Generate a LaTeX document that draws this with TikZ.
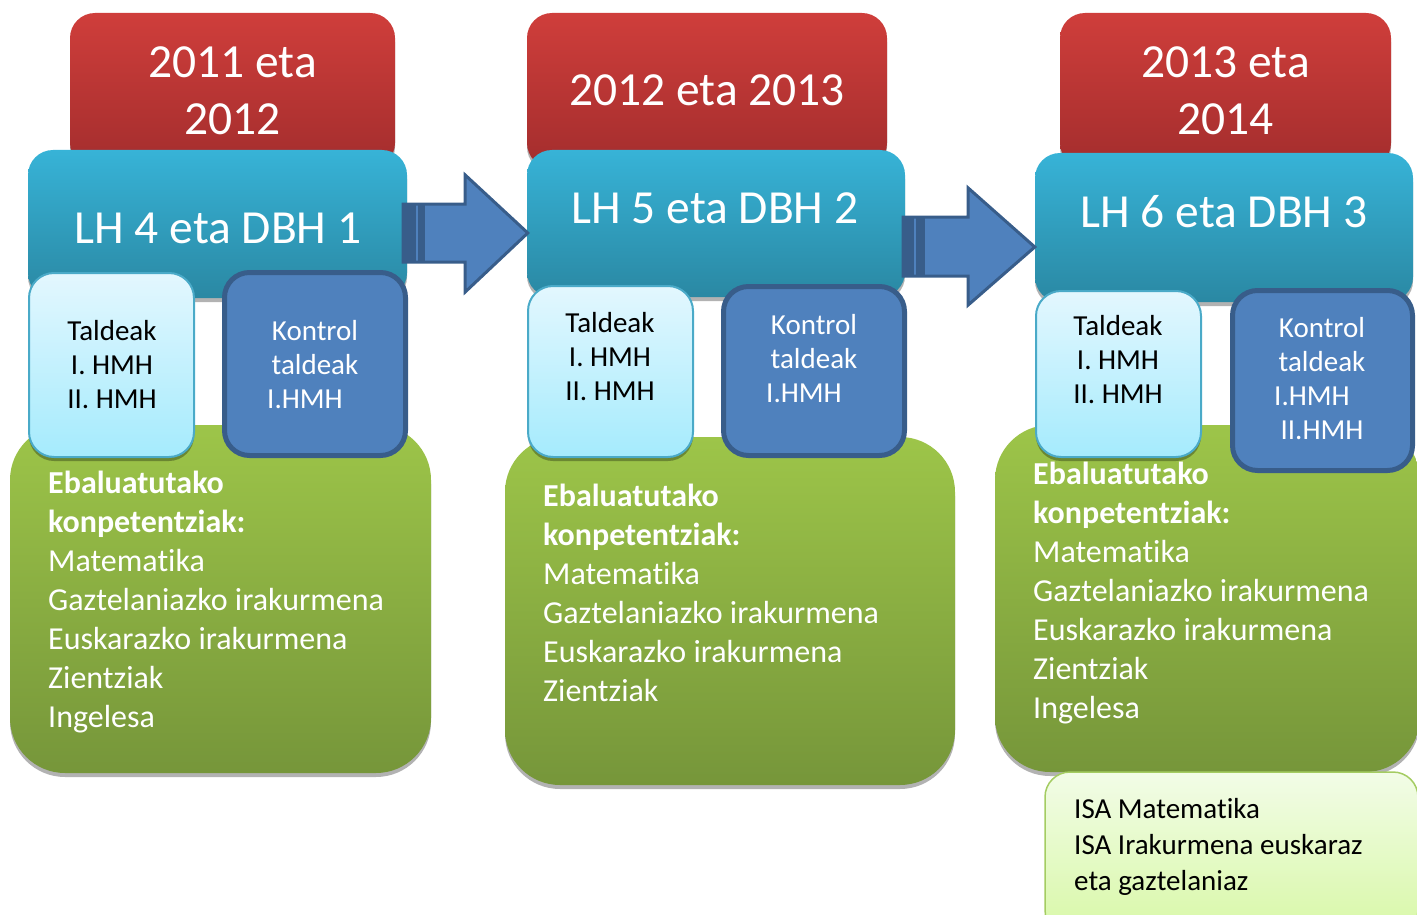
\documentclass[tikz,border=0pt]{standalone}
\usepackage{fontspec}
\setmainfont{Carlito}[Ligatures=CommonOff]
\usetikzlibrary{positioning,calc,shadows}
\definecolor{redtop}{HTML}{CF3E3B}
\definecolor{redbot}{HTML}{A32D2D}
\definecolor{cyantop}{HTML}{37B3D7}
\definecolor{cyanbot}{HTML}{2A88A3}
\definecolor{grouptop}{HTML}{E3F7FE}
\definecolor{groupbot}{HTML}{A5EBFD}
\definecolor{groupline}{HTML}{4AAAC8}
\definecolor{ctrlfill}{HTML}{4F81BD}
\definecolor{ctrlline}{HTML}{385D8A}
\definecolor{comptop}{HTML}{9DC549}
\definecolor{compbot}{HTML}{76963A}
\definecolor{isatop}{HTML}{F2FCE7}
\definecolor{isabot}{HTML}{D8F8A7}
\definecolor{isaline}{HTML}{A4CC62}
\tikzset{
    box/.style = {rectangle, rounded corners=25pt, inner sep=0pt},
    shadowed/.style = {drop shadow={shadow xshift=0pt, shadow yshift=-4pt,
        fill=black, opacity=.3}},
    yearbox/.style = {box, shadowed, top color=redtop, bottom color=redbot,
        text=white, font=\fontsize{47.5}{57}\selectfont, align=center},
    levelbox/.style = {box, shadowed, top color=cyantop, bottom color=cyanbot},
    groupbox/.style = {box, shadowed, draw=groupline, line width=2pt,
        top color=grouptop, bottom color=groupbot},
    ctrlbox/.style = {box, draw=ctrlline, line width=5pt, fill=ctrlfill},
    compbox/.style = {box, shadowed, rounded corners=55pt,
        top color=comptop, bottom color=compbot},
    isabox/.style = {box, shadowed, draw=isaline, line width=1.5pt,
        top color=isatop, bottom color=isabot},
    fatarrow/.style = {draw=ctrlline, line width=3pt, fill=ctrlfill},
    leveltext/.style = {inner sep=0pt, text=white, font=\fontsize{47.5}{57}\selectfont},
    grouptext/.style = {inner sep=0pt, align=center, font=\fontsize{29}{34}\selectfont},
    ctrltext/.style = {grouptext, text=white},
    comptext/.style = {inner sep=0pt, anchor=north west, align=left, text=white,
        font=\fontsize{32}{39}\selectfont},
    isatext/.style = {inner sep=0pt, anchor=north west, align=left,
        font=\fontsize{29}{36}\selectfont}
}
\begin{document}
\begin{tikzpicture}[x=1pt, y=-1pt]
    \useasboundingbox (0,0) rectangle (1417,915);
    % years
    \node [yearbox, minimum width=325pt, minimum height=155pt] (year1) at (232.5,90.5) {2011 eta\\2012};
    \node [yearbox, minimum width=360pt, minimum height=155pt] (year2) at (707,90.5) {2012 eta 2013};
    \node [yearbox, minimum width=331pt, minimum height=155pt] (year3) at (1225.5,90.5) {2013 eta\\2014};
    % levels
    \node [levelbox, minimum width=379pt, minimum height=148pt] (lh1) at (217.5,224) {};
    \node [levelbox, minimum width=378pt, minimum height=147pt] (lh2) at (716,223.5) {};
    \node [levelbox, minimum width=378pt, minimum height=149pt] (lh3) at (1224,227.5) {};
    % competences
    \node [compbox, minimum width=421pt, minimum height=348pt] (comp1) at (220.5,599) {};
    \node [compbox, minimum width=450pt, minimum height=348pt] (comp2) at (730,611) {};
    \node [compbox, minimum width=425pt, minimum height=347pt] (comp3) at (1207.5,598.5) {};
    % groups
    \node [groupbox, minimum width=165pt, minimum height=184pt] (tal1) at (111.5,365) {};
    \node [groupbox, minimum width=165pt, minimum height=171pt] (tal2) at (610.5,371.5) {};
    \node [groupbox, minimum width=165pt, minimum height=166pt] (tal3) at (1118.5,374) {};
    \node [ctrlbox, minimum width=181pt, minimum height=183pt] (kon1) at (315,364) {};
    \node [ctrlbox, minimum width=181pt, minimum height=169pt] (kon2) at (814,371) {};
    \node [ctrlbox, minimum width=180pt, minimum height=180pt] (kon3) at (1322.5,380.5) {};
    \node [isabox, minimum width=373pt, minimum height=163pt] (isa) at (1231.5,853.5) {};
    % arrows
    \draw [fatarrow] ($(lh1.east)+(-4,-20)$) -- ++(62,0) -- ++(0,-29)
        -- ($(lh2.west)+(1,9.5)$) -- ($(lh1.east)+(58,68)$) -- ++(0,-30) -- ++(-62,0) -- cycle;
    \fill [ctrlline] ($(lh1.east)+(-4,-20)$) rectangle ++(13,58);
    \fill [ctrlline] ($(lh1.east)+(11,-20)$) rectangle ++(7,58);
    \draw [fatarrow] ($(lh2.east)+(-2,-6.5)$) -- ++(65,0) -- ++(0,-29)
        -- ($(lh3.west)+(0,19.5)$) -- ($(lh2.east)+(63,81.5)$) -- ++(0,-29) -- ++(-65,0) -- cycle;
    \fill [ctrlline] ($(lh2.east)+(-2,-6.5)$) rectangle ++(11,59);
    \fill [ctrlline] ($(lh2.east)+(11,-6.5)$) rectangle ++(9,59);
    % texts
    \node [leveltext] (lh1t) at (218,228) {LH 4 eta DBH 1};
    \node [leveltext] (lh2t) at (715,208) {LH 5 eta DBH 2};
    \node [leveltext] (lh3t) at (1224,212) {LH 6 eta DBH 3};
    \node [grouptext] (tal1t) at (112,365) {Taldeak\\I. HMH\\II. HMH};
    \node [grouptext] (tal2t) at (610,357) {Taldeak\\I. HMH\\II. HMH};
    \node [grouptext] (tal3t) at (1118,360) {Taldeak\\I. HMH\\II. HMH};
    \node [ctrltext] (kon1t) at (315,365) {Kontrol\\taldeak\\\mbox{I.HMH\kern20pt}};
    \node [ctrltext] (kon2t) at (814,359) {Kontrol\\taldeak\\\mbox{I.HMH\kern20pt}};
    \node [ctrltext] (kon3t) at (1322,379) {Kontrol\\taldeak\\\mbox{I.HMH\kern20pt}\\II.HMH};
    \node [comptext] (comp1t) at (48,471) {\textbf{Ebaluatutako}\\\textbf{konpetentziak:}\\Matematika\\Gaztelaniazko irakurmena\\Euskarazko irakurmena\\Zientziak\\Ingelesa};
    \node [comptext] (comp2t) at (543,484) {\textbf{Ebaluatutako}\\\textbf{konpetentziak:}\\Matematika\\Gaztelaniazko irakurmena\\Euskarazko irakurmena\\Zientziak};
    \node [comptext] (comp3t) at (1033,462) {\textbf{Ebaluatutako}\\\textbf{konpetentziak:}\\Matematika\\Gaztelaniazko irakurmena\\Euskarazko irakurmena\\Zientziak\\Ingelesa};
    \node [isatext] (isat) at (1074,798) {ISA Matematika\\ISA Irakurmena euskaraz\\eta gaztelaniaz};
\end{tikzpicture}
\end{document}
